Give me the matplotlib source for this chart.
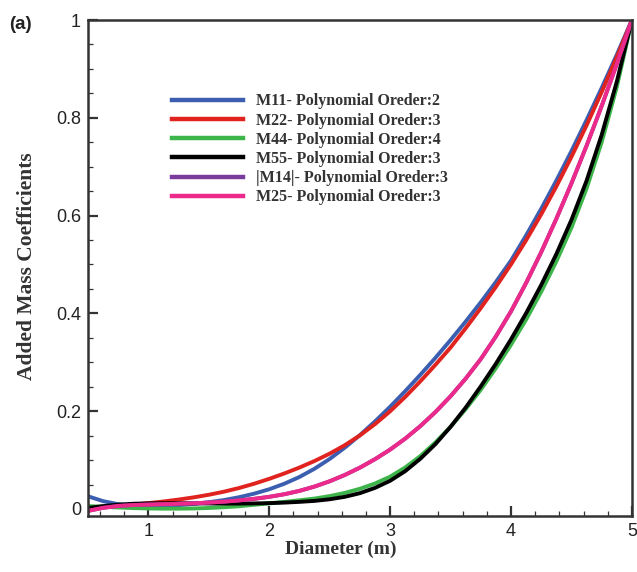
import matplotlib
matplotlib.use("Agg")
import matplotlib.pyplot as plt
from matplotlib.ticker import MultipleLocator, FixedLocator

# Diameter sample points (m)
diameter = [0.5, 0.625, 0.75, 0.875, 1.0, 1.125, 1.25, 1.375, 1.5, 1.625,
            1.75, 1.875, 2.0, 2.125, 2.25, 2.375, 2.5, 2.625, 2.75, 2.875,
            3.0, 3.125, 3.25, 3.375, 3.5, 3.625, 3.75, 3.875, 4.0, 4.125,
            4.25, 4.375, 4.5, 4.625, 4.75, 4.875, 5.0]

# Normalised added mass coefficients
m11 = [0.026, 0.016, 0.0098, 0.0067, 0.0057, 0.0062, 0.0077, 0.0102, 0.0137, 0.0182,
       0.024, 0.0313, 0.0403, 0.0516, 0.0654, 0.0823, 0.1023, 0.1254, 0.151, 0.1791,
       0.2091, 0.241, 0.2744, 0.3092, 0.3455, 0.3833, 0.4228, 0.4643, 0.5081, 0.5596,
       0.6141, 0.6716, 0.7321, 0.7954, 0.8612, 0.9292, 1.0]
m22 = [0.003, 0.0046, 0.0066, 0.009, 0.0119, 0.0153, 0.0192, 0.0237, 0.029, 0.0353,
       0.0428, 0.0516, 0.0616, 0.0726, 0.0847, 0.0981, 0.1131, 0.1304, 0.1504, 0.1735,
       0.1998, 0.2292, 0.2611, 0.2949, 0.3302, 0.3696, 0.4109, 0.4543, 0.5002, 0.5496,
       0.6027, 0.6596, 0.7202, 0.7846, 0.8527, 0.924, 1.0]
m44 = [0.006, 0.0045, 0.003, 0.0018, 0.001, 0.0006, 0.0006, 0.001, 0.002, 0.0035,
       0.0055, 0.0085, 0.0115, 0.0145, 0.0178, 0.0213, 0.0263, 0.0328, 0.0413, 0.0521,
       0.0661, 0.0849, 0.1082, 0.1362, 0.168, 0.2043, 0.2438, 0.2881, 0.3359, 0.3874,
       0.4442, 0.5063, 0.5753, 0.6553, 0.7501, 0.8629, 1.0]
m55 = [0.002, 0.0058, 0.0088, 0.0106, 0.0114, 0.0117, 0.0117, 0.0115, 0.0112, 0.011,
       0.011, 0.0113, 0.0119, 0.013, 0.0145, 0.0165, 0.0198, 0.0248, 0.0323, 0.0431,
       0.0576, 0.0774, 0.1027, 0.1327, 0.168, 0.2073, 0.2508, 0.2971, 0.3469, 0.4004,
       0.4582, 0.5213, 0.5913, 0.6713, 0.7651, 0.8739, 1.0]
m14 = [-0.004, 0.0023, 0.0061, 0.008, 0.009, 0.0098, 0.0106, 0.0116, 0.013, 0.0149,
       0.0174, 0.0207, 0.0248, 0.0301, 0.037, 0.0458, 0.0566, 0.0695, 0.0845, 0.1018,
       0.1214, 0.1439, 0.1695, 0.1983, 0.2306, 0.2666, 0.3066, 0.3529, 0.4042, 0.4623,
       0.5254, 0.5935, 0.666, 0.7429, 0.8242, 0.9098, 1.0]
m25 = [-0.004, 0.0023, 0.0061, 0.008, 0.009, 0.0098, 0.0106, 0.0116, 0.013, 0.0149,
       0.0174, 0.0207, 0.0248, 0.0301, 0.037, 0.0458, 0.0566, 0.0695, 0.0845, 0.1018,
       0.1214, 0.1439, 0.1695, 0.1983, 0.2306, 0.2666, 0.3066, 0.3529, 0.4042, 0.4623,
       0.5254, 0.5935, 0.666, 0.7429, 0.8242, 0.9098, 1.0]

labels = ["M11- Polynomial Oreder:2", "M22- Polynomial Oreder:3",
          "M44- Polynomial Oreder:4", "M55- Polynomial Oreder:3",
          "|M14|- Polynomial Oreder:3", "M25- Polynomial Oreder:3"]
colors = ["#3c5eb0", "#e0231f", "#3db54a", "#000000", "#7a3c9c", "#ec2a8c"]

x_ticks = [1, 2, 3, 4, 5]
y_ticks = [0, 0.2, 0.4, 0.6, 0.8, 1]
y_ticklabels = ["0", "0.2", "0.4", "0.6", "0.8", "1"]

fig = plt.figure(figsize=(6.37, 5.72), dpi=100)
ax = fig.add_axes([0.138, 0.098, 0.854, 0.867])

for ys, c, lab in zip([m11, m22, m44, m55, m14, m25], colors, labels):
    ax.plot(diameter, ys, color=c, lw=2.8, label=lab, solid_joinstyle="round")

ax.set_xlim(0.5, 5.0)
ax.set_ylim(-0.0143, 1.0)

ax.xaxis.set_major_locator(FixedLocator(x_ticks))
ax.xaxis.set_minor_locator(MultipleLocator(0.2))
ax.yaxis.set_major_locator(FixedLocator(y_ticks))
ax.yaxis.set_minor_locator(MultipleLocator(0.05))
ax.set_yticklabels(y_ticklabels)

ax.tick_params(which="both", direction="in", top=False, right=False,
               colors="#333333")
ax.tick_params(which="major", length=7, width=1.6, labelsize=13,
               labelcolor="#222222", pad=5)
ax.tick_params(which="minor", length=3.5, width=0.9)
for lab in ax.get_xticklabels() + ax.get_yticklabels():
    lab.set_fontfamily("Liberation Sans")

for sp in ax.spines.values():
    sp.set_linewidth(1.8)
    sp.set_color("#333333")

serif_bold = dict(family="Liberation Serif", weight="bold", color="#333333")
ax.set_xlabel("Diameter (m)", va="center", ha="center", size=14, **serif_bold)
ax.set_ylabel("Added Mass Coefficients", va="center", ha="center", size=15.5,
              **serif_bold)
ax.xaxis.set_label_coords(0.465, -0.0665)
ax.yaxis.set_label_coords(-0.112, 0.503)

fig.text(0.014, 0.958, "(a)", family="Liberation Sans", weight="bold",
         size=13.5, color="#222222", va="center", ha="left")

leg = ax.legend(loc="upper left", bbox_to_anchor=(0.154, 0.852),
                frameon=False, borderpad=0, borderaxespad=0,
                handlelength=4.45, handletextpad=0.8, labelspacing=0.2,
                prop=dict(family="Liberation Serif", weight="bold", size=11.5))
for t in leg.get_texts():
    t.set_color("#333333")
for h in leg.legend_handles:
    h.set_linewidth(3.2)

fig.savefig("out.png", dpi=100)
